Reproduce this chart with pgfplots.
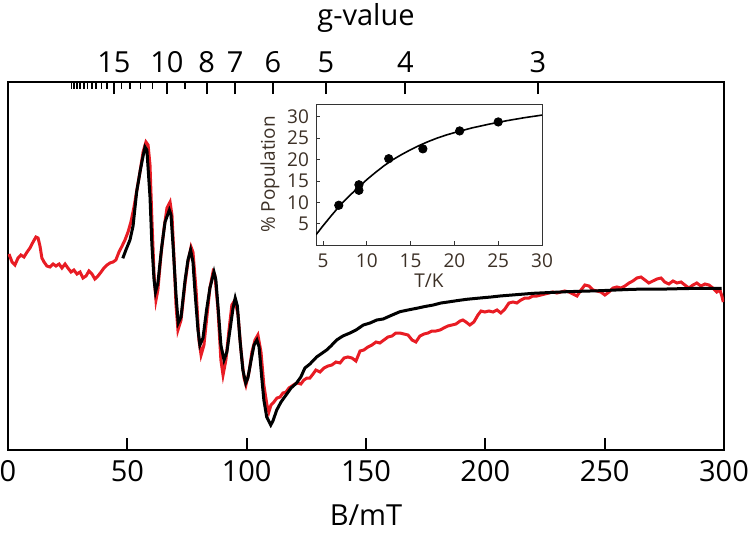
\documentclass[border=0pt]{standalone}
\usepackage{fontspec}
\setmainfont{Open Sans}
\usepackage{pgfplots}
\pgfplotsset{compat=1.18}
\definecolor{specred}{RGB}{232,28,36}
\definecolor{insettext}{RGB}{60,48,38}
\pgfplotsset{gbase/.style={at={(4pt,41pt)}, anchor=south west, scale only axis,
  width=358pt, height=184pt, xmin=0, xmax=300, ymin=0, ymax=1,
  axis x line*=top, axis y line=none, tick align=inside,
  axis line style={line width=0.9pt, -}, tick style={line width=0.9pt, black}},
  tickstrip/.style={anchor=south west, scale only axis, width=358pt, height=6pt,
  xmin=0, xmax=300, ymin=0, ymax=1, axis line style={draw=none}, ytick=\empty,
  xticklabels={}, major tick length=0pt, xmajorgrids,
  major grid style={black, line width=0.9pt}}}
\begin{document}
\begin{tikzpicture}[x=1pt,y=1pt]
\path[use as bounding box] (0,0) rectangle (375,266);
% long ticks at labelled g values, hanging from the top frame
\begin{axis}[tickstrip, at={(4pt,219pt)},
  xtick={44.4,66.6,83.25,95.14,111.0,133.2,166.5,222.0}]
\addplot[draw=none] coordinates {(0,0)};
\end{axis}
% ticks standing on the bottom frame
\begin{axis}[tickstrip, at={(4pt,41pt)}, xtick={50,100,...,250}]
\addplot[draw=none] coordinates {(0,0)};
\end{axis}
% top g-value axis: small ticks
\begin{axis}[gbase, major tick length=3.5pt,
  xtick={26.64,27.75,28.96,30.27,31.71,33.3,35.05,37.0,39.18,41.63,47.57,51.23,55.5,60.55,74.0},
  xticklabels={}]
\addplot[draw=none] coordinates {(0,0)};
\end{axis}
% top g-value axis: labels
\begin{axis}[gbase, major tick length=0pt,
  xtick={44.4,66.6,83.25,95.14,111.0,133.2,166.5,222.0},
  xticklabels={15,10,8,7,6,5,4,3},
  xticklabel style={font=\fontsize{14.5}{16}\selectfont, yshift=1pt}]
\addplot[draw=none] coordinates {(0,0)};
\end{axis}
% main axis
\begin{axis}[name=main, at={(4pt,41pt)}, anchor=south west, scale only axis,
  width=358pt, height=184pt, xmin=0, xmax=300, ymin=0, ymax=368,
  xtick={0,50,...,300}, xtick pos=left, ytick=\empty,
  tick align=inside, major tick length=6pt,
  axis line style={line width=0.9pt}, tick style={line width=0.9pt, black},
  /pgf/number format/assume math mode=true,
  xticklabel style={font=\fontsize{14.5}{16}\selectfont, yshift=-1.5pt}]
\addplot[specred, line width=1.5pt] coordinates {
(0.4,196)(1.7,188)(2.9,185)(4.2,192)(5.4,195)(6.7,193)(8.0,198)(9.2,202)(10.5,208)(11.7,213)(12.6,212)(13.4,204)(14.2,192)(15.1,188)(16.3,184)(17.6,183)(18.9,186)(20.1,184)(21.4,186)(22.6,182)(23.9,186)(25.1,182)(26.4,178)(27.6,180)(28.9,176)(30.2,178)(31.4,172)(32.7,174)(33.9,179)(35.2,176)(36.4,171)(37.7,174)(39.0,178)(40.2,182)(41.5,185)(42.7,187)(44.0,188)(45.2,190)(46.5,198)(47.8,204)(49.0,210)(50.3,218)(51.5,228)(52.8,243)(54.0,260)(55.3,278)(56.6,298)(57.8,308)(58.7,305)(59.5,285)(60.3,230)(61.2,175)(62.0,150)(62.8,160)(64.1,195)(65.4,222)(66.6,242)(67.9,248)(68.7,235)(69.5,195)(70.4,145)(71.2,120)(72.5,130)(74.2,167)(75.4,188)(76.7,203)(77.5,198)(78.8,160)(80.0,110)(80.9,95)(82.1,105)(83.4,135)(84.6,162)(85.9,178)(86.7,175)(88.0,140)(89.2,90)(90.1,75)(91.3,90)(92.6,120)(93.8,145)(95.1,150)(96.4,135)(97.6,100)(98.9,72)(99.7,65)(101.0,78)(102.2,98)(103.5,110)(104.7,115)(106.0,98)(107.2,65)(108.5,45)(109.3,38)(110.2,45)(111.4,48)(112.7,52)(114.0,53)(115.2,57)(116.5,58)(117.7,62)(119.0,64)(120.2,66)(121.5,67)(122.7,66)(124.0,70)(125.3,72)(126.5,72)(127.8,76)(129.0,80)(130.7,78)(132.4,82)(134.1,84)(135.7,85)(137.4,88)(139.1,87)(140.8,92)(142.4,93)(144.1,92)(145.8,89)(147.5,99)(149.1,100)(150.8,103)(152.5,105)(154.2,108)(155.8,107)(157.5,110)(159.2,113)(160.9,114)(162.5,117)(164.2,117)(165.9,116)(167.6,115)(169.3,110)(170.9,108)(172.6,114)(174.3,116)(176.0,117)(177.6,119)(179.3,119)(181.0,120)(182.6,122)(184.3,124)(186.0,125)(187.7,126)(189.4,129)(190.6,130)(191.9,128)(193.5,125)(195.2,128)(196.9,135)(198.2,139)(199.8,138)(201.5,139)(203.2,138)(204.9,140)(206.5,137)(208.2,141)(209.9,147)(211.6,148)(213.2,147)(214.9,150)(216.6,152)(218.3,152)(219.9,154)(221.6,154)(223.3,155)(225.0,156)(226.6,157)(228.3,158)(230.0,157)(231.7,158)(233.3,159)(235.0,158)(236.7,156)(238.4,154)(240.1,160)(241.7,165)(243.4,164)(245.1,160)(246.8,159)(248.4,158)(250.1,155)(251.8,158)(253.5,162)(255.1,163)(256.8,162)(258.5,164)(260.2,167)(261.8,169)(263.5,172)(265.2,173)(266.9,170)(268.5,167)(270.2,169)(271.9,171)(273.6,172)(275.2,168)(276.9,166)(278.6,169)(280.3,167)(282.0,168)(283.6,165)(285.3,162)(287.0,165)(288.6,167)(290.3,164)(292.0,166)(293.7,165)(295.3,162)(297.0,158)(298.3,160)(299.1,154)(299.7,148)};
\addplot[black, line width=1.5pt] coordinates {
(48.1,191.7)(49.4,200)(51.1,210)(52.4,224)(53.9,258)(55.3,278)(56.6,294)(57.4,303)(58.2,300)(59.5,253)(60.3,205)(61.2,170)(61.8,158)(62.8,167)(64.4,203)(65.8,228)(67.6,240)(68.3,235)(69.2,203)(70.4,155)(71.3,127)(72.5,133)(74.2,170)(75.4,190)(76.5,200)(77.5,188)(78.3,160)(79.6,120)(80.4,105)(81.7,112)(83.2,140)(84.6,162)(86.3,178)(87.1,170)(88.1,140)(89.2,105)(90.5,90)(91.7,98)(93.0,120)(94.3,142)(95.2,152)(96.1,144)(97.2,110)(98.4,80)(99.6,67)(100.5,72)(102.1,93)(103.1,105)(104.3,110)(105.2,103)(106.3,73)(107.2,50)(108.4,33)(110.1,25)(111.0,29)(112.6,40)(114.4,48)(116.8,56)(118.6,62)(120.9,67)(122.7,73)(124.4,82)(126.5,86)(129.3,93)(131.1,96)(133.5,100)(135.3,104)(137.7,110)(140.3,114)(143.3,117)(145.8,120)(148.9,125)(151.7,127)(154.5,130)(157.2,131)(160.0,134)(164.2,138.3)(167.6,140)(171.2,141.7)(174.7,143.5)(178.2,145)(181.4,147)(185.2,148.3)(188.5,149.5)(192.2,150.7)(195.6,151.5)(199.1,152.3)(202.4,153)(206.1,154)(212.8,155.3)(220.1,156.7)(227.1,157.5)(234.1,158.3)(241.0,158.8)(248.0,159.3)(254.7,160)(262.0,160.7)(269.0,161)(276.0,161)(282.8,161.4)(290.0,161.7)(299.0,161.7)};
\end{axis}
\node[font=\fontsize{14.5}{16}\selectfont] at ([yshift=-32.5pt]main.south) {B/mT};
\node[font=\fontsize{14.5}{16}\selectfont] at ([yshift=32pt]main.north) {g-value};
% inset
\begin{axis}[at={(158pt,143.5pt)}, anchor=south west, scale only axis,
  width=113pt, height=70.5pt, xmin=4.2, xmax=30, ymin=0, ymax=33,
  xtick={5,10,...,30}, ytick={5,10,...,30},
  tick align=inside, major tick length=2pt,
  axis line style={line width=0.5pt, black!80}, tick style={line width=0.4pt, black!80},
  xtick pos=left, ytick pos=left,
  /pgf/number format/assume math mode=true,
  ticklabel style={font=\fontsize{9.5}{11}\selectfont, text=insettext},
  xticklabel style={yshift=-1pt},
  xlabel={T/K}, ylabel={\% Population},
  label style={font=\fontsize{9.5}{11}\selectfont, text=insettext},
  xlabel style={yshift=4pt}, ylabel style={yshift=-3pt}]
\addplot[black, line width=0.8pt] coordinates {
(4.2,2.4)(5,4.5)(6,7.0)(7,9.4)(8,11.5)(9,13.4)(10,15.3)(11,17.0)(12,18.6)(13,20.0)(14,21.2)(15,22.3)(16,23.3)(17,24.2)(18,25.0)(19,25.7)(20,26.3)(22,27.4)(24,28.3)(26,29.1)(28,29.8)(30,30.4)};
\addplot[only marks, mark=*, mark size=2.1pt, black] coordinates {
(6.8,9.3)(9.1,12.8)(9.1,14.1)(12.5,20.2)(16.4,22.5)(20.6,26.7)(25.0,28.8)};
\end{axis}
\end{tikzpicture}
\end{document}
